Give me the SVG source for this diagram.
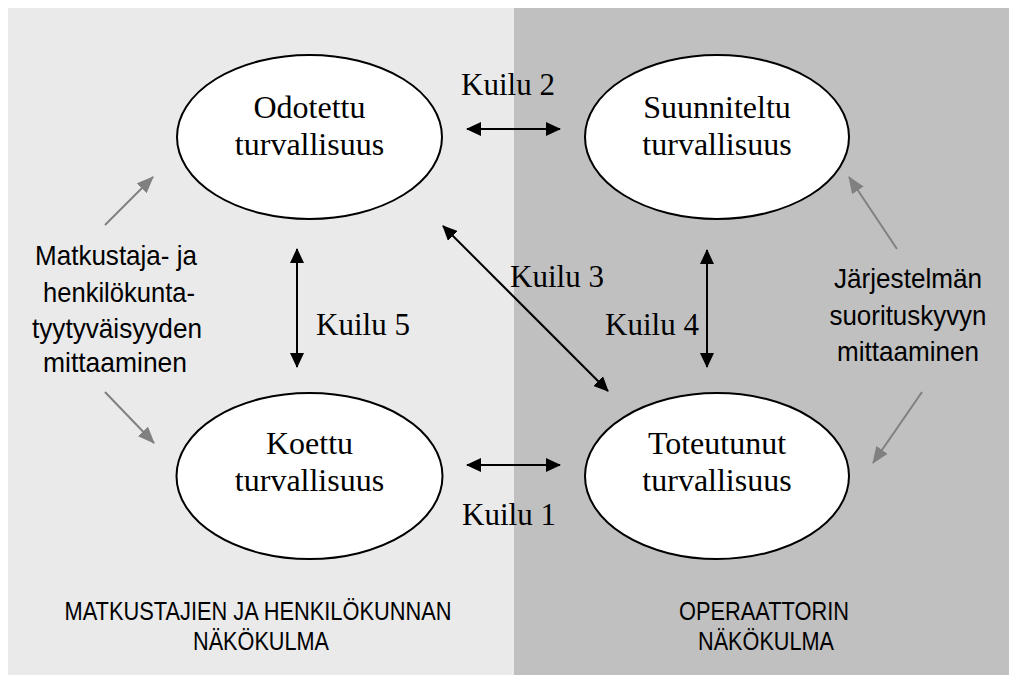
<svg xmlns="http://www.w3.org/2000/svg" width="1009" height="675" viewBox="0 0 1009 675">
<style>
.serif{font-family:"Liberation Serif","Times New Roman",serif;font-size:32px;fill:#000;text-anchor:middle}
.lbl{font-family:"Liberation Serif","Times New Roman",serif;font-size:31px;fill:#000;text-anchor:middle}
.sans{font-family:"Liberation Sans",Arial,sans-serif;font-size:28.5px;fill:#000;text-anchor:middle}
.cap{font-family:"Liberation Sans",Arial,sans-serif;font-size:25px;fill:#000;text-anchor:middle}
.node{fill:#fff;stroke:#000;stroke-width:2}
.blk{stroke:#000;stroke-width:2;fill:none}
.gry{stroke:#808080;stroke-width:2;fill:none}
</style>
<defs>
<marker id="ab" viewBox="0 0 15 14" refX="14" refY="7" markerWidth="15" markerHeight="14" markerUnits="userSpaceOnUse" orient="auto-start-reverse"><path d="M0,0 L15,7 L0,14 z" fill="#000"/></marker>
<marker id="ag" viewBox="0 0 17 14" refX="16" refY="7" markerWidth="17" markerHeight="14" markerUnits="userSpaceOnUse" orient="auto"><path d="M0,0 L17,7 L0,14 z" fill="#808080"/></marker>
</defs>
<rect x="0" y="0" width="1009" height="675" fill="#fff"/>
<g id="panels">
<rect x="8" y="8" width="506" height="667" fill="#eaeaea"/>
<rect x="514" y="8" width="495" height="667" fill="#c0c0c0"/>
</g>
<g id="connectors">
<line class="blk" x1="467" y1="129" x2="560" y2="129" marker-start="url(#ab)" marker-end="url(#ab)"/>
<line class="blk" x1="467" y1="465" x2="560" y2="465" marker-start="url(#ab)" marker-end="url(#ab)"/>
<line class="blk" x1="443" y1="226" x2="608" y2="391" marker-start="url(#ab)" marker-end="url(#ab)"/>
<line class="blk" x1="297" y1="249" x2="297" y2="367" marker-start="url(#ab)" marker-end="url(#ab)"/>
<line class="blk" x1="707" y1="250" x2="707" y2="367" marker-start="url(#ab)" marker-end="url(#ab)"/>
<line class="gry" x1="105" y1="225" x2="153" y2="177" marker-end="url(#ag)"/>
<line class="gry" x1="105" y1="392" x2="154" y2="443" marker-end="url(#ag)"/>
<line class="gry" x1="897" y1="249" x2="849" y2="177" marker-end="url(#ag)"/>
<line class="gry" x1="922" y1="392" x2="873" y2="463" marker-end="url(#ag)"/>
<text class="lbl" x="508" y="95">Kuilu 2</text>
<text class="lbl" x="557" y="287">Kuilu 3</text>
<text class="lbl" x="652" y="335">Kuilu 4</text>
<text class="lbl" x="363" y="335">Kuilu 5</text>
<text class="lbl" x="509" y="525">Kuilu 1</text>
</g>
<g id="odotettu">
<ellipse class="node" cx="309.5" cy="137" rx="132.5" ry="82"/>
<text class="serif" x="309.5" y="118">Odotettu</text>
<text class="serif" x="309.5" y="155">turvallisuus</text>
</g>
<g id="suunniteltu">
<ellipse class="node" cx="717" cy="137" rx="132" ry="82"/>
<text class="serif" x="717" y="118">Suunniteltu</text>
<text class="serif" x="717" y="155">turvallisuus</text>
</g>
<g id="koettu">
<ellipse class="node" cx="309.5" cy="476" rx="133" ry="83"/>
<text class="serif" x="309.5" y="454">Koettu</text>
<text class="serif" x="309.5" y="491">turvallisuus</text>
</g>
<g id="toteutunut">
<ellipse class="node" cx="717" cy="476" rx="132" ry="83"/>
<text class="serif" x="717" y="454">Toteutunut</text>
<text class="serif" x="717" y="491">turvallisuus</text>
</g>
<g id="matkustaja-text">
<text class="sans" x="116" y="265" textLength="162" lengthAdjust="spacingAndGlyphs">Matkustaja- ja</text>
<text class="sans" x="119" y="302" textLength="152" lengthAdjust="spacingAndGlyphs">henkilökunta-</text>
<text class="sans" x="117" y="338" textLength="170" lengthAdjust="spacingAndGlyphs">tyytyväisyyden</text>
<text class="sans" x="115" y="372" textLength="144" lengthAdjust="spacingAndGlyphs">mittaaminen</text>
</g>
<g id="jarjestelma-text">
<text class="sans" x="908" y="288" textLength="148" lengthAdjust="spacingAndGlyphs">Järjestelmän</text>
<text class="sans" x="908" y="325" textLength="157" lengthAdjust="spacingAndGlyphs">suorituskyvyn</text>
<text class="sans" x="908" y="361" textLength="142" lengthAdjust="spacingAndGlyphs">mittaaminen</text>
</g>
<g id="captions">
<text class="cap" x="258" y="620" textLength="387" lengthAdjust="spacingAndGlyphs">MATKUSTAJIEN JA HENKILÖKUNNAN</text>
<text class="cap" x="261" y="650" textLength="136" lengthAdjust="spacingAndGlyphs">NÄKÖKULMA</text>
<text class="cap" x="764" y="620" textLength="170" lengthAdjust="spacingAndGlyphs">OPERAATTORIN</text>
<text class="cap" x="766" y="650" textLength="136" lengthAdjust="spacingAndGlyphs">NÄKÖKULMA</text>
</g>
</svg>
